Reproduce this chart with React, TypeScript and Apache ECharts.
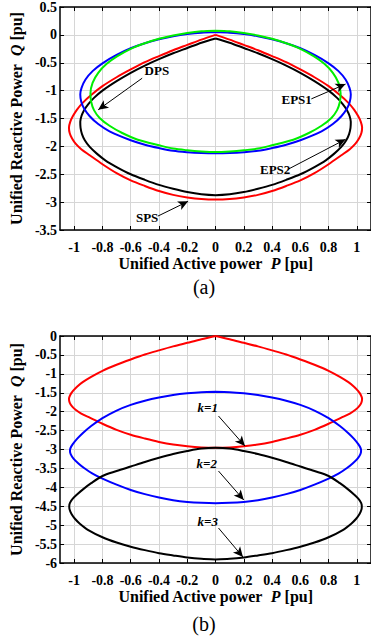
import React, { useEffect, useRef } from 'react';
import * as echarts from 'echarts';

// ---------- tick labels ----------
const X_TICKS = [-1, -0.8, -0.6, -0.4, -0.2, 0, 0.2, 0.4, 0.6, 0.8, 1];

// ---------- (a) curves : [P, Q] ----------
const SPS: number[][] = [
  [0, 0], [0.1, -0.085], [0.2, -0.18], [0.3, -0.275], [0.4, -0.38], [0.5, -0.49], [0.6, -0.62], [0.7, -0.76], [0.8, -0.92],
  [0.88, -1.08], [0.94, -1.22], [0.98, -1.34], [1.01, -1.46], [1.028, -1.56], [1.037, -1.66], [1.032, -1.76], [1.015, -1.86],
  [0.99, -1.95], [0.95, -2.05], [0.89, -2.16], [0.8, -2.32], [0.7, -2.48], [0.6, -2.61], [0.5, -2.71], [0.4, -2.8], [0.3, -2.87],
  [0.2, -2.915], [0.1, -2.945], [0, -2.955],
  [-0.1, -2.945], [-0.2, -2.915], [-0.3, -2.87], [-0.4, -2.8], [-0.5, -2.71], [-0.6, -2.61], [-0.7, -2.48], [-0.8, -2.32],
  [-0.89, -2.16], [-0.95, -2.05], [-0.99, -1.95], [-1.015, -1.86], [-1.032, -1.76], [-1.037, -1.66], [-1.028, -1.56], [-1.01, -1.46],
  [-0.98, -1.34], [-0.94, -1.22], [-0.88, -1.08], [-0.8, -0.92], [-0.7, -0.76], [-0.6, -0.62], [-0.5, -0.49], [-0.4, -0.38],
  [-0.3, -0.275], [-0.2, -0.18], [-0.1, -0.085], [0, 0],
];

const EPS2: number[][] = [
  [0, -0.065], [0.1, -0.14], [0.2, -0.235], [0.3, -0.33], [0.4, -0.435], [0.5, -0.55], [0.6, -0.68], [0.7, -0.83], [0.8, -1.0],
  [0.86, -1.13], [0.9, -1.24], [0.93, -1.35], [0.948, -1.45], [0.957, -1.56], [0.955, -1.67], [0.945, -1.78], [0.925, -1.89],
  [0.89, -2.01], [0.84, -2.13], [0.78, -2.25], [0.7, -2.37], [0.6, -2.5], [0.5, -2.6], [0.4, -2.69], [0.3, -2.76],
  [0.2, -2.82], [0.1, -2.86], [0, -2.875],
  [-0.1, -2.86], [-0.2, -2.82], [-0.3, -2.76], [-0.4, -2.69], [-0.5, -2.6], [-0.6, -2.5], [-0.7, -2.37], [-0.78, -2.25],
  [-0.84, -2.13], [-0.89, -2.01], [-0.925, -1.89], [-0.945, -1.78], [-0.955, -1.67], [-0.957, -1.56], [-0.948, -1.45], [-0.93, -1.35],
  [-0.9, -1.24], [-0.86, -1.13], [-0.8, -1.0], [-0.7, -0.83], [-0.6, -0.68], [-0.5, -0.55], [-0.4, -0.435], [-0.3, -0.33],
  [-0.2, -0.235], [-0.1, -0.14], [0, -0.065],
];

const EPS1: number[][] = [
  [0, 0.05], [0.1, 0.04], [0.2, 0.015], [0.3, -0.025], [0.4, -0.08], [0.5, -0.15], [0.6, -0.24], [0.7, -0.36], [0.8, -0.51],
  [0.87, -0.65], [0.92, -0.8], [0.948, -0.95], [0.957, -1.07], [0.95, -1.2], [0.93, -1.32], [0.89, -1.46], [0.83, -1.6],
  [0.75, -1.73], [0.6, -1.89], [0.5, -1.97], [0.4, -2.03], [0.3, -2.08], [0.2, -2.105], [0.1, -2.12], [0, -2.125],
  [-0.1, -2.12], [-0.2, -2.105], [-0.3, -2.08], [-0.4, -2.03], [-0.5, -1.97], [-0.6, -1.89], [-0.75, -1.73], [-0.83, -1.6],
  [-0.89, -1.46], [-0.93, -1.32], [-0.95, -1.2], [-0.957, -1.07], [-0.948, -0.95], [-0.92, -0.8], [-0.87, -0.65], [-0.8, -0.51],
  [-0.7, -0.36], [-0.6, -0.24], [-0.5, -0.15], [-0.4, -0.08], [-0.3, -0.025], [-0.2, 0.015], [-0.1, 0.04], [0, 0.05],
];

const DPS: number[][] = [
  [0, 0.075], [0.1, 0.065], [0.2, 0.035], [0.3, -0.01], [0.4, -0.07], [0.5, -0.15], [0.6, -0.25], [0.7, -0.39], [0.77, -0.52],
  [0.83, -0.68], [0.87, -0.86], [0.885, -1.05], [0.88, -1.2], [0.86, -1.35], [0.82, -1.49], [0.75, -1.63], [0.66, -1.76],
  [0.55, -1.88], [0.4, -1.98], [0.3, -2.04], [0.2, -2.07], [0.1, -2.09], [0, -2.1],
  [-0.1, -2.09], [-0.2, -2.07], [-0.3, -2.04], [-0.4, -1.98], [-0.55, -1.88], [-0.66, -1.76], [-0.75, -1.63], [-0.82, -1.49],
  [-0.86, -1.35], [-0.88, -1.2], [-0.885, -1.05], [-0.87, -0.86], [-0.83, -0.68], [-0.77, -0.52], [-0.7, -0.39], [-0.6, -0.25],
  [-0.5, -0.15], [-0.4, -0.07], [-0.3, -0.01], [-0.2, 0.035], [-0.1, 0.065], [0, 0.075],
];

// ---------- (b) curves : [P, Q] ----------
const K1 = SPS;

const K2: number[][] = [
  [0, -1.475], [0.1, -1.485], [0.2, -1.515], [0.3, -1.56], [0.4, -1.625], [0.5, -1.71], [0.6, -1.82], [0.7, -1.97], [0.8, -2.17],
  [0.88, -2.38], [0.94, -2.57], [0.98, -2.72], [1.01, -2.86], [1.026, -2.96], [1.03, -3.03], [1.025, -3.12], [1.005, -3.24],
  [0.97, -3.37], [0.93, -3.49], [0.87, -3.64], [0.8, -3.77], [0.7, -3.93], [0.6, -4.07], [0.5, -4.18], [0.4, -4.27], [0.3, -4.34],
  [0.2, -4.385], [0.1, -4.41], [0, -4.42],
  [-0.1, -4.41], [-0.2, -4.385], [-0.3, -4.34], [-0.4, -4.27], [-0.5, -4.18], [-0.6, -4.07], [-0.7, -3.93], [-0.8, -3.77],
  [-0.87, -3.64], [-0.93, -3.49], [-0.97, -3.37], [-1.005, -3.24], [-1.025, -3.12], [-1.03, -3.03], [-1.026, -2.96], [-1.01, -2.86],
  [-0.98, -2.72], [-0.94, -2.57], [-0.88, -2.38], [-0.8, -2.17], [-0.7, -1.97], [-0.6, -1.82], [-0.5, -1.71], [-0.4, -1.625],
  [-0.3, -1.56], [-0.2, -1.515], [-0.1, -1.485], [0, -1.475],
];

const K3: number[][] = [
  [0, -5.905], [0.1, -5.89], [0.2, -5.855], [0.3, -5.8], [0.4, -5.74], [0.5, -5.66], [0.6, -5.57], [0.7, -5.46], [0.8, -5.32],
  [0.9, -5.13], [0.96, -4.96], [0.995, -4.83], [1.02, -4.7], [1.033, -4.58], [1.035, -4.5], [1.03, -4.41], [1.01, -4.3],
  [0.98, -4.19], [0.94, -4.06], [0.88, -3.89], [0.8, -3.7], [0.7, -3.57], [0.6, -3.45], [0.5, -3.33], [0.4, -3.22], [0.3, -3.12],
  [0.2, -3.04], [0.1, -2.975], [0, -2.955],
  [-0.1, -2.975], [-0.2, -3.04], [-0.3, -3.12], [-0.4, -3.22], [-0.5, -3.33], [-0.6, -3.45], [-0.7, -3.57], [-0.8, -3.7],
  [-0.88, -3.89], [-0.94, -4.06], [-0.98, -4.19], [-1.01, -4.3], [-1.03, -4.41], [-1.035, -4.5], [-1.033, -4.58], [-1.02, -4.7],
  [-0.995, -4.83], [-0.96, -4.96], [-0.9, -5.13], [-0.8, -5.32], [-0.7, -5.46], [-0.6, -5.57], [-0.5, -5.66], [-0.4, -5.74],
  [-0.3, -5.8], [-0.2, -5.855], [-0.1, -5.89], [0, -5.905],
];

// ---------- annotations (data coordinates) ----------
const LABELS_A = ['DPS', 'EPS1', 'EPS2', 'SPS'];
const LABEL_AT_A = [[-0.415, -0.636], [0.574, -1.166], [0.422, -2.42], [-0.484, -3.268]];
const ARROW_FROM_A = [[-0.519, -0.777], [0.678, -1.148], [0.519, -2.403], [-0.408, -3.251]];
const ARROW_TO_A = [[-0.83, -1.343], [0.92, -0.883], [0.92, -1.873], [-0.194, -2.986]];

const LABELS_B = ['k=1', 'k=2', 'k=3'];
const LABEL_AT_B = [[-0.055, -1.9], [-0.062, -3.357], [-0.055, -4.89]];
const ARROW_FROM_B = [[0.021, -2.115], [0.021, -3.569], [0.021, -5.075]];
const ARROW_TO_B = [[0.208, -2.908], [0.2, -4.335], [0.194, -5.842]];

const FONT = '"Liberation Serif", "Times New Roman", serif';

function curve(name: string, data: number[][], color: string, idx: number, extra: any = {}) {
  return {
    name,
    type: 'line',
    xAxisIndex: idx * 2,
    yAxisIndex: idx * 2,
    data,
    showSymbol: false,
    smooth: 0.3,
    lineStyle: { color, width: 2 },
    itemStyle: { color },
    silent: true,
    z: 3,
    ...extra,
  };
}

function annotations(labels: string[], at: number[][], from: number[][], to: number[][], italic: boolean) {
  return {
    markLine: {
      silent: true,
      animation: false,
      symbol: ['none', 'arrow'],
      symbolSize: [7, 10],
      label: { show: false },
      lineStyle: { color: '#000', width: 1, type: 'solid' },
      data: from.map((f, i) => [
        { coord: f, symbol: 'none' },
        { coord: to[i], symbol: 'arrow' },
      ]),
    },
    markPoint: {
      silent: true,
      animation: false,
      symbol: 'circle',
      symbolSize: 0,
      label: {
        show: true,
        position: 'inside',
        color: '#000',
        fontFamily: FONT,
        fontWeight: 'bold',
        fontStyle: italic ? 'italic' : 'normal',
        fontSize: 13,
        formatter: (p: any) => p.name,
      },
      data: labels.map((t, i) => ({ name: t, coord: at[i] })),
    },
  };
}

const tickLabelStyle = {
  color: '#000',
  fontFamily: FONT,
  fontWeight: 'bold',
  fontSize: 14,
};

const axisLineStyle = { color: '#000', width: 1.5 };
const gridLineStyle = { color: '#d6d6d6', width: 1 };
const nameRich = {
  t: { fontFamily: FONT, fontWeight: 'bold', fontSize: 16, color: '#000' },
  i: { fontFamily: FONT, fontWeight: 'bold', fontStyle: 'italic', fontSize: 16, color: '#000' },
};

function xAxes(gridIndex: number) {
  return [
    {
      gridIndex,
      type: 'value',
      min: -1.1,
      max: 1.1,
      position: 'bottom',
      axisLine: { show: true, onZero: false, lineStyle: axisLineStyle },
      axisTick: { show: true, inside: true, length: 4, customValues: X_TICKS, lineStyle: { color: '#000', width: 1 } },
      axisLabel: { show: true, customValues: X_TICKS, margin: 10, ...tickLabelStyle },
      splitLine: { show: true, lineStyle: gridLineStyle },
      name: '{t|Unified Active power}  {i|P} {t|[pu]}',
      nameLocation: 'middle',
      nameGap: 25,
      nameTextStyle: { fontFamily: FONT, fontWeight: 'bold', fontSize: 16, color: '#000', rich: nameRich },
    },
    {
      gridIndex,
      type: 'value',
      min: -1.1,
      max: 1.1,
      position: 'top',
      axisLine: { show: true, onZero: false, lineStyle: axisLineStyle },
      axisTick: { show: true, inside: true, length: 4, customValues: X_TICKS, lineStyle: { color: '#000', width: 1 } },
      axisLabel: { show: false },
      splitLine: { show: false },
    },
  ];
}

function yAxes(gridIndex: number, min: number, max: number) {
  return [
    {
      gridIndex,
      type: 'value',
      min,
      max,
      interval: 0.5,
      position: 'left',
      axisLine: { show: true, onZero: false, lineStyle: axisLineStyle },
      axisTick: { show: true, inside: true, length: 4, lineStyle: { color: '#000', width: 1 } },
      axisLabel: { show: true, margin: 3, ...tickLabelStyle },
      splitLine: { show: true, lineStyle: gridLineStyle },
      name: '{t|Unified Reactive Power}  {i|Q} {t|[pu]}',
      nameLocation: 'middle',
      nameGap: 36,
      nameRotate: 90,
      nameTextStyle: { fontFamily: FONT, fontWeight: 'bold', fontSize: 16, color: '#000', rich: nameRich },
    },
    {
      gridIndex,
      type: 'value',
      min,
      max,
      interval: 0.5,
      position: 'right',
      axisLine: { show: true, onZero: false, lineStyle: axisLineStyle },
      axisTick: { show: true, inside: true, length: 4, lineStyle: { color: '#000', width: 1 } },
      axisLabel: { show: false },
      splitLine: { show: false },
    },
  ];
}

export default function App() {
  const ref = useRef<HTMLDivElement>(null);
  useEffect(() => {
    if (!ref.current) return;
    const chart = echarts.init(ref.current, null, { renderer: 'svg' });
    const option: any = {
      animation: false,
      backgroundColor: '#fff',
      grid: [
        { left: 56, top: 4, width: 317, height: 226 },
        { left: 56, top: 336, width: 317, height: 227 },
      ],
      xAxis: [...xAxes(0), ...xAxes(1)],
      yAxis: [...yAxes(0, -3.5, 0.5), ...yAxes(1, -6, 0)],
      series: [
        curve('EPS2', EPS2, '#000000', 0, annotations(LABELS_A, LABEL_AT_A, ARROW_FROM_A, ARROW_TO_A, false)),
        curve('SPS', SPS, '#ff0000', 0),
        curve('EPS1', EPS1, '#0000ff', 0),
        curve('DPS', DPS, '#00ee00', 0),
        curve('k=1', K1, '#ff0000', 1, annotations(LABELS_B, LABEL_AT_B, ARROW_FROM_B, ARROW_TO_B, true)),
        curve('k=2', K2, '#0000ff', 1),
        curve('k=3', K3, '#000000', 1),
      ],
      graphic: [
        { type: 'text', style: { text: '(a)', x: 204, y: 287, fontFamily: FONT, fontSize: 20, fill: '#000', align: 'center', verticalAlign: 'middle' } },
        { type: 'text', style: { text: '(b)', x: 204, y: 624, fontFamily: FONT, fontSize: 20, fill: '#000', align: 'center', verticalAlign: 'middle' } },
      ],
    };
    chart.setOption(option);
    return () => chart.dispose();
  }, []);
  return (
    <div
      ref={ref}
      style={{ position: 'absolute', left: 0, top: 0, width: 371, height: 642, background: '#fff' }}
    />
  );
}
